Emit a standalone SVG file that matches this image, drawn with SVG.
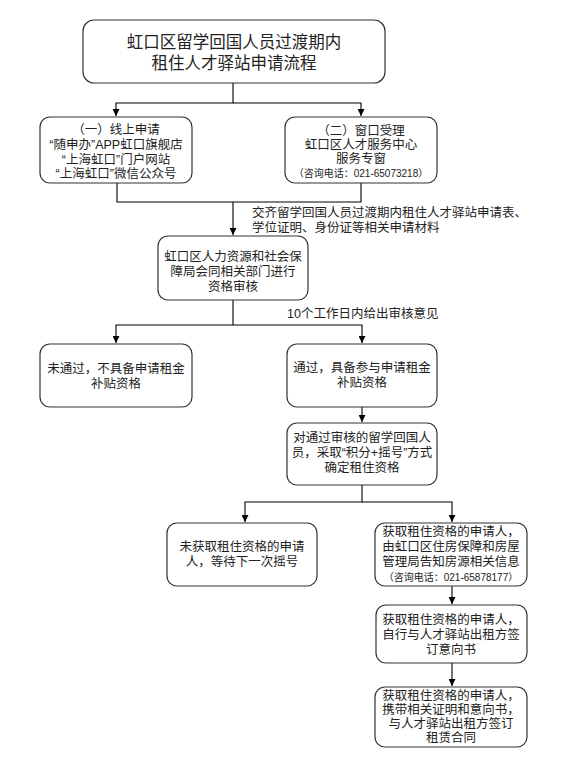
<svg xmlns="http://www.w3.org/2000/svg" width="573" height="775" viewBox="0 0 573 775">
<defs>
<marker id="arr" viewBox="0 0 8 8" refX="8" refY="4" markerWidth="7" markerHeight="7" orient="auto" markerUnits="userSpaceOnUse">
<path d="M0,0 L8,4 L0,8 z" fill="#000"/>
</marker>
<style>
.box{fill:#fff;stroke:#333;stroke-width:1.2}
.t{font-family:"Liberation Sans","Noto Sans CJK SC",sans-serif;font-size:12.5px;fill:#222;text-anchor:middle;dominant-baseline:central}
.big{font-size:16.5px}
.sm{font-size:10px}
.lbl{font-family:"Liberation Sans","Noto Sans CJK SC",sans-serif;font-size:12.5px;fill:#222;dominant-baseline:central}
.c{fill:none;stroke:#000;stroke-width:1.1}
</style>
</defs>
<rect width="573" height="775" fill="#fff"/>
<g id="connectors">
<path class="c" d="M233,83 V103 H116 V116" marker-end="url(#arr)"/>
<path class="c" d="M233,103 H361 V116" marker-end="url(#arr)"/>
<path class="c" d="M117,183 V202 H361 V183"/>
<path class="c" d="M233,202 V235" marker-end="url(#arr)"/>
<path class="c" d="M233,300 V325 H116 V343" marker-end="url(#arr)"/>
<path class="c" d="M233,325 H362 V343" marker-end="url(#arr)"/>
<path class="c" d="M362,407 V422" marker-end="url(#arr)"/>
<path class="c" d="M362,485 V502 H245 V522" marker-end="url(#arr)"/>
<path class="c" d="M362,502 H452 V522" marker-end="url(#arr)"/>
<path class="c" d="M452,586 V604" marker-end="url(#arr)"/>
<path class="c" d="M452,663 V686" marker-end="url(#arr)"/>
<text class="lbl" x="252" y="213">交齐留学回国人员过渡期内租住人才驿站申请表、</text>
<text class="lbl" x="252" y="228">学位证明、身份证等相关申请材料</text>
<text class="lbl" x="287" y="314">10个工作日内给出审核意见</text>
</g>
<g id="title">
<rect class="box" x="83" y="20" width="302" height="63" rx="11"/>
<text class="t big" x="234" y="42">虹口区留学回国人员过渡期内</text>
<text class="t big" x="234" y="63">租住人才驿站申请流程</text>
</g>
<g id="online">
<rect class="box" x="40" y="117" width="152" height="66" rx="10"/>
<text class="t" x="116" y="130">（一）线上申请</text>
<text class="t" x="116" y="145">“随申办”APP虹口旗舰店</text>
<text class="t" x="116" y="160">“上海虹口”门户网站</text>
<text class="t" x="116" y="174">“上海虹口”微信公众号</text>
</g>
<g id="window">
<rect class="box" x="285" y="117" width="152" height="66" rx="10"/>
<text class="t" x="361" y="131">（二）窗口受理</text>
<text class="t" x="361" y="145">虹口区人才服务中心</text>
<text class="t" x="361" y="159">服务专窗</text>
<text class="t sm" x="361" y="173">（咨询电话：021-65073218）</text>
</g>
<g id="review">
<rect class="box" x="158" y="236" width="150" height="64" rx="10"/>
<text class="t" x="233" y="257">虹口区人力资源和社会保</text>
<text class="t" x="233" y="272">障局会同相关部门进行</text>
<text class="t" x="233" y="287">资格审核</text>
</g>
<g id="fail">
<rect class="box" x="40" y="344" width="152" height="63" rx="10"/>
<text class="t" x="116" y="369">未通过，不具备申请租金</text>
<text class="t" x="116" y="384">补贴资格</text>
</g>
<g id="pass">
<rect class="box" x="287" y="344" width="150" height="63" rx="10"/>
<text class="t" x="362" y="368">通过，具备参与申请租金</text>
<text class="t" x="362" y="383">补贴资格</text>
</g>
<g id="lottery">
<rect class="box" x="287" y="423" width="150" height="62" rx="10"/>
<text class="t" x="362" y="438">对通过审核的留学回国人</text>
<text class="t" x="362" y="453">员，采取“积分+摇号”方式</text>
<text class="t" x="362" y="468">确定租住资格</text>
</g>
<g id="notget">
<rect class="box" x="167" y="523" width="150" height="63" rx="10"/>
<text class="t" x="242" y="547">未获取租住资格的申请</text>
<text class="t" x="242" y="562">人，等待下一次摇号</text>
</g>
<g id="get">
<rect class="box" x="375" y="523" width="152" height="63" rx="10"/>
<text class="t" x="451" y="532">获取租住资格的申请人，</text>
<text class="t" x="451" y="547">由虹口区住房保障和房屋</text>
<text class="t" x="451" y="562">管理局告知房源相关信息</text>
<text class="t sm" x="451" y="577">（咨询电话：021-65878177）</text>
</g>
<g id="intent">
<rect class="box" x="376" y="605" width="151" height="58" rx="10"/>
<text class="t" x="451" y="620">获取租住资格的申请人，</text>
<text class="t" x="451" y="635">自行与人才驿站出租方签</text>
<text class="t" x="451" y="650">订意向书</text>
</g>
<g id="contract">
<rect class="box" x="375" y="687" width="152" height="60" rx="10"/>
<text class="t" x="451" y="696">获取租住资格的申请人，</text>
<text class="t" x="451" y="710">携带相关证明和意向书，</text>
<text class="t" x="451" y="724">与人才驿站出租方签订</text>
<text class="t" x="451" y="738">租赁合同</text>
</g>
</svg>
